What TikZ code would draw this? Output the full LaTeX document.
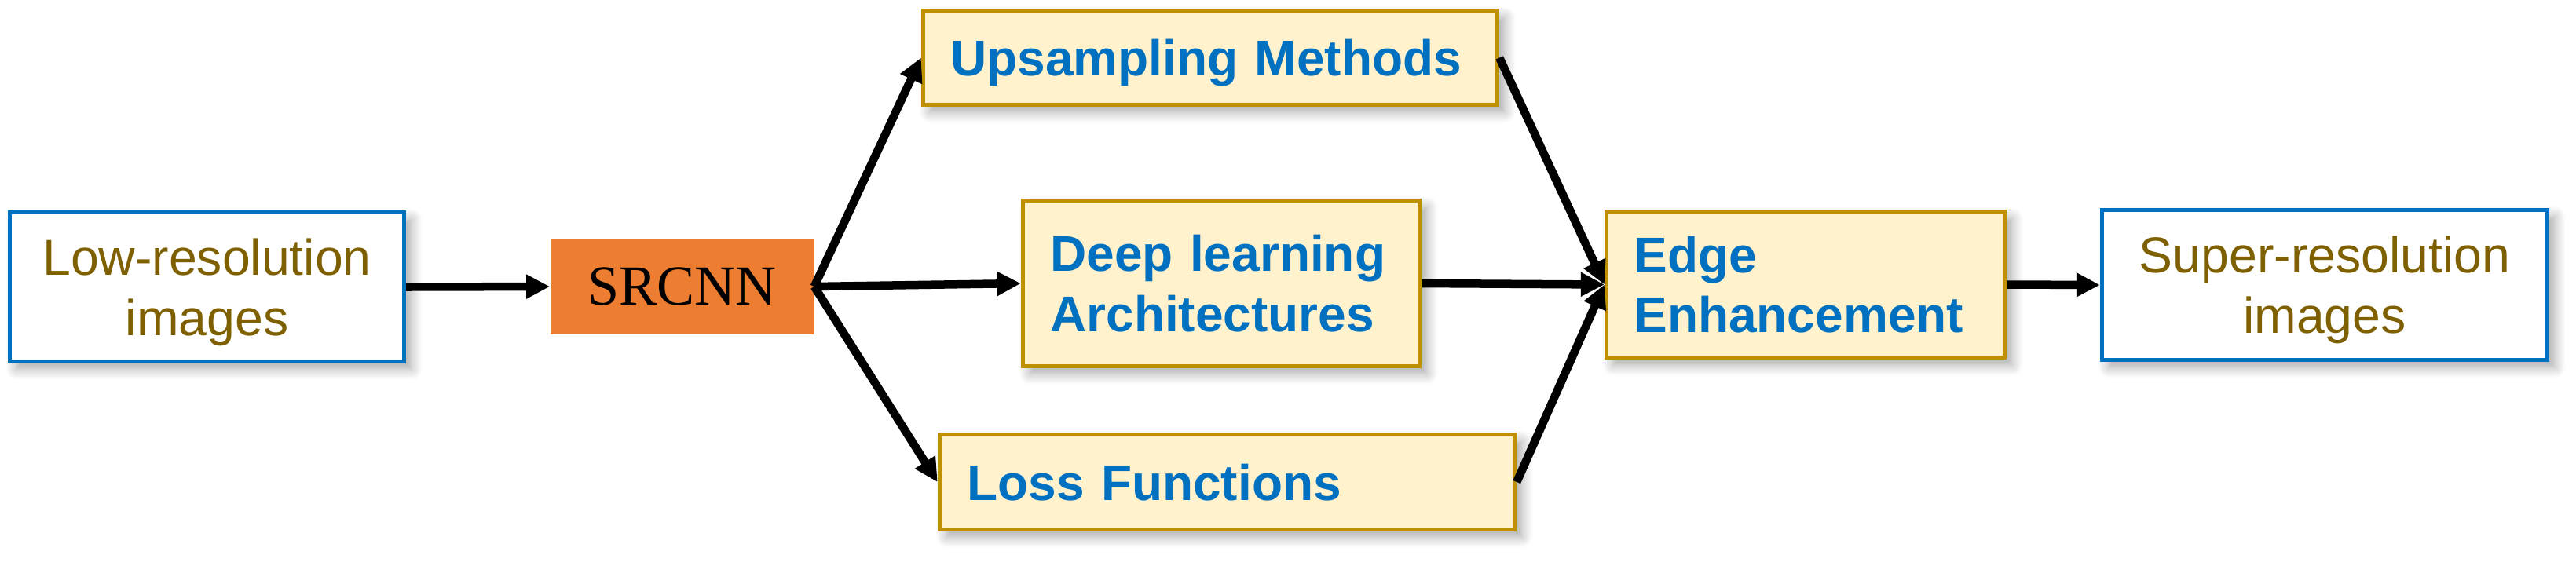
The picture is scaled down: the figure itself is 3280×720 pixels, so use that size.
\documentclass[tikz,border=0pt]{standalone}
\usepackage{fontspec}
\setmainfont{Liberation Sans}
\newfontfamily\timesfont{Liberation Serif}
\usetikzlibrary{arrows.meta,shadows.blur}
\definecolor{lrblue}{HTML}{0070C0}
\definecolor{lrbrown}{HTML}{7F6000}
\definecolor{ygold}{HTML}{BF9000}
\definecolor{yfill}{HTML}{FFF2CC}
\definecolor{sorange}{HTML}{ED7D31}
\tikzset{
  shad/.style={blur shadow={shadow xshift=0.09cm, shadow yshift=-0.09cm, shadow blur radius=0.14cm, shadow blur steps=8, shadow opacity=35}},
  iobox/.style={draw=lrblue, line width=0.05cm, fill=white, shad, align=center,
    text=lrbrown, font=\fontsize{18.3pt}{21.9pt}\selectfont, inner sep=0pt, text depth=0pt},
  ybox/.style={draw=ygold, line width=0.05cm, fill=yfill, shad, align=left,
    text=lrblue, font=\fontsize{18.2pt}{21.8pt}\selectfont\bfseries, inner xsep=0.35cm, inner ysep=0pt},
  oneline/.style={text depth=0pt},
  srbox/.style={fill=sorange, inner sep=0pt, font=\fontsize{20.5pt}{24pt}\selectfont\timesfont, text=black},
  arr/.style={-{Triangle[length=0.3cm,width=0.29cm]}, line width=0.105cm, black},
}
\begin{document}
\begin{tikzpicture}[x=0.01cm,y=-0.01cm]
\useasboundingbox (0,0) rectangle (3280,720);
\node[iobox, minimum width=5.02cm, minimum height=1.9cm] (lr) at (263.5,365.5) {Low-resolution\\images};
\node[srbox, minimum width=3.35cm, minimum height=1.22cm] (src) at (868.5,365) {SRCNN};
\node[ybox, oneline, text width=6.61cm, minimum height=1.2cm] (up) at (1541,73.5) {Upsampling Methods};
\node[ybox, text width=4.35cm, minimum height=2.11cm] (deep) at (1555,361) {Deep learning\\Architectures};
\node[ybox, oneline, text width=6.62cm, minimum height=1.21cm] (loss) at (1562.5,614) {Loss Functions};
\node[ybox, text width=4.37cm, minimum height=1.86cm] (edge) at (2299,362.5) {Edge\\Enhancement};
\node[iobox, minimum width=5.67cm, minimum height=1.91cm] (sr) at (2960,363) {Super-resolution\\images};
\draw[arr] (lr.east) -- (src.west);
\draw[arr] (src.east) -- (up.west);
\draw[arr] (src.east) -- (deep.west);
\draw[arr] (src.east) -- (loss.west);
\draw[arr] (up.east) -- (edge.west);
\draw[arr] (deep.east) -- (edge.west);
\draw[arr] (loss.east) -- (edge.west);
\draw[arr] (edge.east) -- (sr.west);
\end{tikzpicture}
\end{document}
